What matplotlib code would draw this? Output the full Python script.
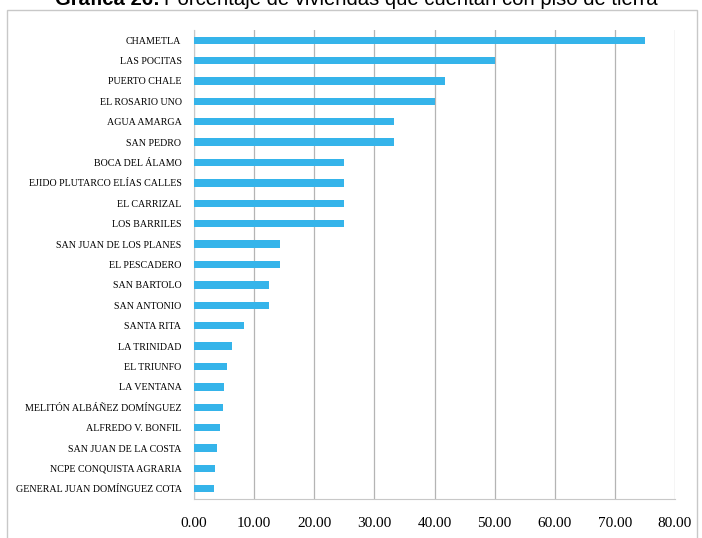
import matplotlib.pyplot as plt
from matplotlib.patches import Rectangle

# Datos: porcentaje de viviendas con piso de tierra
localidades = [
    "CHAMETLA", "LAS POCITAS", "PUERTO CHALE", "EL ROSARIO UNO",
    "AGUA AMARGA", "SAN PEDRO", "BOCA DEL ÁLAMO",
    "EJIDO PLUTARCO ELÍAS CALLES", "EL CARRIZAL", "LOS BARRILES",
    "SAN JUAN DE LOS PLANES", "EL PESCADERO", "SAN BARTOLO",
    "SAN ANTONIO", "SANTA RITA", "LA TRINIDAD", "EL TRIUNFO",
    "LA VENTANA", "MELITÓN ALBÁÑEZ DOMÍNGUEZ", "ALFREDO V. BONFIL",
    "SAN JUAN DE LA COSTA", "NCPE CONQUISTA AGRARIA",
    "GENERAL JUAN DOMÍNGUEZ COTA",
]
porcentajes = [
    75.0, 50.0, 41.67, 40.0, 33.33, 33.33, 25.0,
    25.0, 25.0, 25.0, 14.29, 14.29, 12.5,
    12.5, 8.33, 6.25, 5.56, 5.0, 4.76, 4.35,
    3.85, 3.45, 3.33,
]
ticks_x = [0, 10, 20, 30, 40, 50, 60, 70, 80]

fig = plt.figure(figsize=(7.02, 5.38), dpi=100)
ax = fig.add_axes([194 / 702, 1 - 499 / 538, 481 / 702, 469 / 538])

pos = list(range(len(localidades)))[::-1]
ax.barh(pos, porcentajes, height=0.36, color="#35b4ea", zorder=3)

ax.set_xlim(0, 80)
ax.set_ylim(-0.5, len(localidades) - 0.5)
ax.set_yticks(pos)
ax.set_yticklabels(localidades, fontfamily="Liberation Serif", fontsize=7.2)
ax.set_xticks(ticks_x)
ax.set_xticklabels([f"{t:.2f}" for t in ticks_x], fontfamily="Liberation Serif", fontsize=11)
ax.tick_params(axis="y", length=0, pad=9)
ax.tick_params(axis="x", length=0, pad=13)

ax.grid(axis="x", color="#b4b4b4", linewidth=0.9, zorder=0)
for s in ["top", "right"]:
    ax.spines[s].set_visible(False)
ax.spines["left"].set_color("#c8c8c8")
ax.spines["bottom"].set_color("#c8c8c8")

# marco exterior del gráfico
fig.patches.append(Rectangle((7 / 702, -0.05), 690 / 702, 1 - 10 / 538 + 0.05,
                             transform=fig.transFigure, fill=False,
                             edgecolor="#c8c8c8", linewidth=1))

# título (cortado arriba, como en la imagen)
t1 = fig.text(55 / 702, 1 - 5 / 538, "Gráfica 26:", fontfamily="Liberation Sans",
              fontweight="bold", fontsize=14.6, va="baseline", ha="left")
fig.canvas.draw()
bb = t1.get_window_extent()
fig.text(bb.x1 / 702 + 4 / 702, 1 - 5 / 538,
         "Porcentaje de viviendas que cuentan con piso de tierra",
         fontfamily="Liberation Sans", fontsize=14.6, va="baseline", ha="left")

fig.savefig("out.png", dpi=100)
